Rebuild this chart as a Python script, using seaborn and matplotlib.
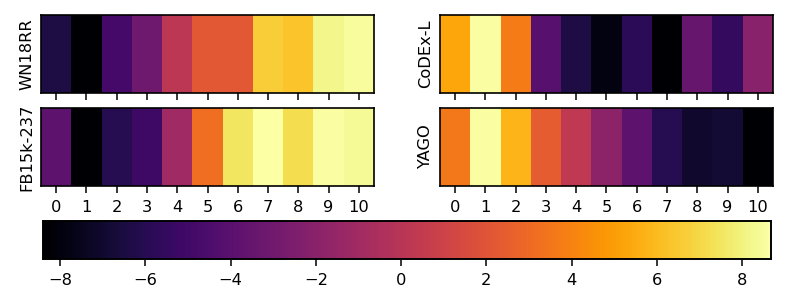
import numpy as np
import pandas as pd
import matplotlib
matplotlib.use("Agg")
import matplotlib.pyplot as plt
import seaborn as sns

positions = list(range(11))
datasets = ["WN18RR", "FB15k-237", "CoDEx-L", "YAGO"]
wn18rr = [-6.35, -8.39, -4.8, -3.1, 0.15, 2.2, 2.2, 6.65, 6.3, 8.2, 8.5]
fb15k = [-3.8, -8.4, -6.0, -5.15, -1.05, 3.2, 7.5, 8.68, 7.2, 8.6, 8.4]
codex = [5.3, 8.6, 3.7, -4.1, -6.35, -7.9, -5.8, -8.39, -3.4, -5.5, -2.05]
yago = [3.6, 8.6, 5.8, 2.4, 0.3, -1.9, -3.8, -6.0, -7.0, -6.85, -8.39]
cbar_ticks = [-8, -6, -4, -2, 0, 2, 4, 6, 8]

series = [wn18rr, fb15k, codex, yago]
vmin = min(min(s) for s in series)
vmax = max(max(s) for s in series)

sns.set_theme(style="white")
plt.rcParams['font.family'] = ['DejaVu Sans']
plt.rcParams['text.color'] = 'black'
plt.rcParams['axes.labelcolor'] = 'black'
plt.rcParams['xtick.color'] = 'black'
plt.rcParams['ytick.color'] = 'black'

FS = 11.7
W, H = 789, 306
fig = plt.figure(figsize=(W / 100, H / 100), dpi=100)

def ax_at(x0, y0, x1, y1):
    return fig.add_axes([x0 / W, 1 - y1 / H, (x1 - x0) / W, (y1 - y0) / H])

boxes = [(41, 15, 374, 93), (41, 108, 374, 186), (440, 15, 773, 93), (440, 108, 773, 186)]
cax = ax_at(43, 221, 771, 259)

for i, (name, vals, box) in enumerate(zip(datasets, series, boxes)):
    ax = ax_at(*box)
    df = pd.DataFrame([vals], columns=positions, index=[name])
    sns.heatmap(df, ax=ax, cmap="inferno", vmin=vmin, vmax=vmax,
                cbar=(i == 0), cbar_ax=cax if i == 0 else None,
                cbar_kws={"orientation": "horizontal", "ticks": cbar_ticks})
    for s in ax.spines.values():
        s.set_visible(True)
        s.set_color("black")
        s.set_linewidth(1.2)
    ax.set_yticks([])
    ax.set_ylabel(name, fontsize=FS, labelpad=5, color="black")
    ax.set_xticks(np.arange(11) + 0.5)
    ax.tick_params(axis="x", bottom=True, length=5, width=1.1, color="black",
                   labelsize=FS, pad=5, labelcolor="black")
    if i in (0, 2):
        ax.set_xticklabels([])
    else:
        ax.set_xticklabels([str(p) for p in positions], rotation=0)

for s in cax.spines.values():
    s.set_visible(True)
    s.set_color("black")
    s.set_linewidth(1.2)
cax.tick_params(axis="x", bottom=True, length=5, width=1.1, color="black",
                labelsize=FS, pad=5, labelcolor="black")
cax.set_xticklabels([f"{t}".replace("-", "\u2212") for t in cbar_ticks])

fig.savefig("out.png", dpi=100)
